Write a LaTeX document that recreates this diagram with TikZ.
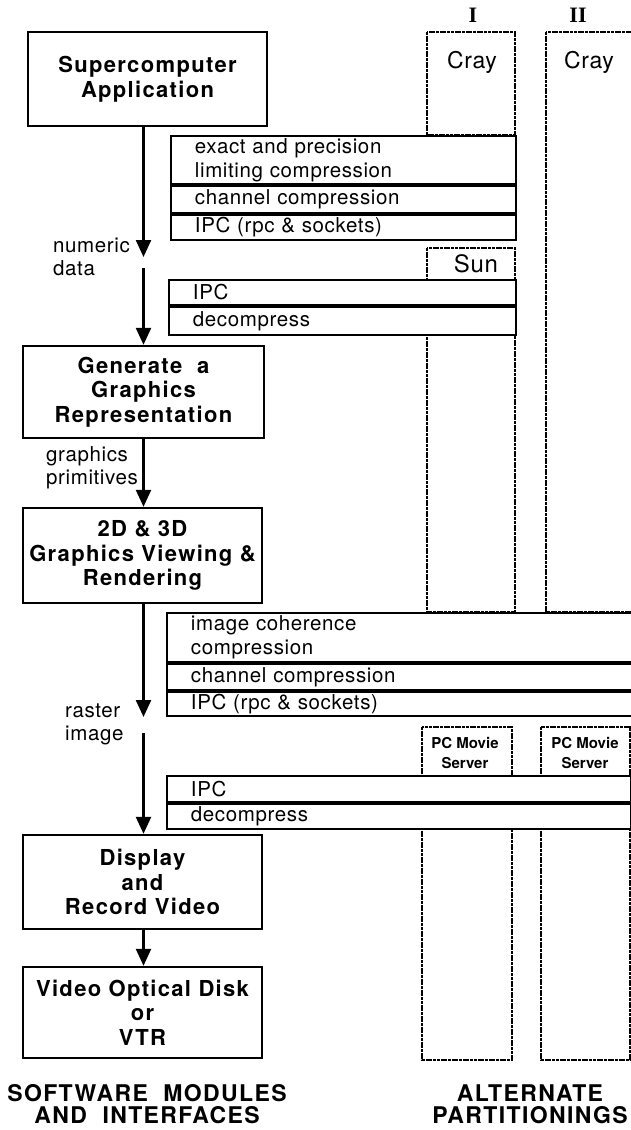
\documentclass[tikz,border=0pt]{standalone}
\usepackage{fontspec}
\setmainfont{TeX Gyre Heros}
\newfontfamily\trackfont{TeX Gyre Heros}[LetterSpace=6]
\newfontfamily\bandfont{TeX Gyre Heros}[LetterSpace=3]
\newfontfamily\romfont{Liberation Serif}
\usetikzlibrary{arrows.meta}
\begin{document}
\begin{tikzpicture}[x=1pt,y=-1pt,
  modbox/.style={draw, line width=2.4pt, rectangle, inner sep=0pt, align=center,
    font=\fontsize{22}{24.5}\selectfont\trackfont\bfseries},
  row/.style={draw, fill=white, line width=1.9pt, rectangle, inner xsep=24pt, inner ysep=0pt,
    align=left, anchor=north west, font=\fontsize{20.5}{24}\selectfont\bandfont},
  col/.style={draw, line width=1.6pt, dash pattern=on 3pt off 0.7pt},
  lbl/.style={align=left, anchor=west, inner sep=0pt, font=\fontsize{20.5}{23}\selectfont\bandfont},
  coltext/.style={inner sep=0pt, font=\fontsize{23}{24}\selectfont\bandfont},
  pctext/.style={inner sep=0pt, align=center, font=\fontsize{15}{19.5}\selectfont\bfseries},
  title/.style={inner sep=0pt, align=center, font=\fontsize{23}{22}\selectfont\trackfont\bfseries},
  roman/.style={inner sep=0pt, font=\fontsize{22}{22}\selectfont\romfont\bfseries},
  arr/.style={line width=2.4pt, -{Triangle[length=17pt,width=15pt]}}
]
\useasboundingbox (0,0) rectangle (631,1130);
\clip (0,0) rectangle (631,1130);

% ---- columns (alternate partitionings)
\draw[col] (427,32) rectangle (515,135);
\draw[col] (427,248) rectangle (515,612);
\draw[col] (546,32) rectangle (640,612);
\draw[col] (422,727) rectangle (512,1060);
\draw[col] (541,727) rectangle (630,1060);

\node[roman] (r1) at (473,15) {I};
\node[roman] (r2) at (578,15) {II};
\node[coltext] (cray1) at (472,62) {Cray};
\node[coltext] (cray2) at (589,62) {Cray};
\node[coltext, font=\fontsize{24}{24}\selectfont\bandfont] (sun) at (476,264) {Sun};
\node[pctext] (pc1) at (465,753) {PC Movie\\Server};
\node[pctext] (pc2) at (585,753) {PC Movie\\Server};

% ---- interface bands
\node[row, text width=297pt, minimum height=48pt] (c1a) at (170,135) {exact and precision\\limiting compression};
\node[row, text width=297pt, minimum height=27pt] (c1b) at (c1a.south west) {channel compression};
\node[row, text width=297pt, minimum height=25pt] (c1c) at (c1b.south west) {IPC (rpc \& sockets)};

\node[row, text width=299pt, minimum height=25pt] (c2a) at (168,279) {IPC};
\node[row, text width=299pt, minimum height=28pt] (c2b) at (c2a.south west) {decompress};

\node[row, text width=426pt, minimum height=49pt, font=\fontsize{20.5}{23.5}\selectfont\bandfont] (c3a) at (166,612) {image coherence\\compression};
\node[row, text width=426pt, minimum height=26pt] (c3b) at (c3a.south west) {channel compression};
\node[row, text width=426pt, minimum height=24pt] (c3c) at (c3b.south west) {IPC (rpc \& sockets)};

\node[row, text width=416pt, minimum height=26pt] (c4a) at (166,775) {IPC};
\node[row, text width=416pt, minimum height=25pt] (c4b) at (c4a.south west) {decompress};

% ---- software modules
\node[modbox, minimum width=239pt, minimum height=94pt] (b1) at (147.5,79) {Supercomputer\\Application};
\node[modbox, minimum width=241pt, minimum height=92pt] (b2) at (143.5,392) {Generate \ a\\Graphics\\Representation};
\node[modbox, minimum width=239pt, minimum height=95pt] (b3) at (142.5,555.5) {2D \& 3D\\Graphics Viewing \&\\Rendering};
\node[modbox, minimum width=239pt, minimum height=94pt] (b4) at (142.5,882) {Display\\and\\Record Video};
\node[modbox, minimum width=239pt, minimum height=91pt] (b5) at (142.5,1012.5) {Video Optical Disk\\or\\VTR};

\coordinate (tip1) at (143.5,257);
\coordinate (tail1) at (143.5,268);
\coordinate (tip2) at (143.5,717);
\coordinate (tail2) at (143.5,733);

\draw[arr] (b1.south -| tip1) -- (tip1);
\draw[arr] (tail1) -- (b2.north);
\draw[arr] (b2.south) -- (b3.north -| b2.south);
\draw[arr] (b3.south -| tip2) -- (tip2);
\draw[arr] (tail2) -- (b4.north -| tail2);
\draw[arr] (b4.south -| tail2) -- (b5.north -| tail2);

\node[lbl] (l1) at (53,256.5) {numeric\\data};
\node[lbl] (l2) at (46,467.5) {graphics\\primitives};
\node[lbl] (l3) at (65,724.5) {raster\\image};

% ---- titles
\node[title] (t1) at (147,1104) {SOFTWARE \ MODULES\\AND \ INTERFACES};
\node[title] (t2) at (530,1104) {ALTERNATE\\PARTITIONINGS};
\end{tikzpicture}
\end{document}
